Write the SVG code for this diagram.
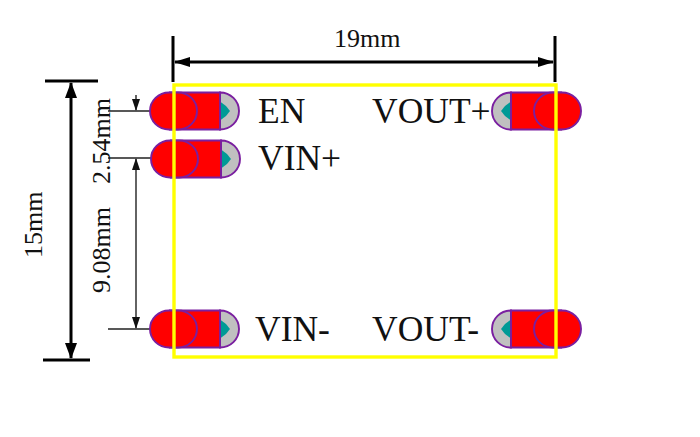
<svg xmlns="http://www.w3.org/2000/svg" width="700" height="437" viewBox="0 0 700 437">
<style>
text{font-family:"Liberation Serif","Times New Roman",serif;fill:#111}
.lbl{font-size:35.500px}
.dim{font-size:26px}
.body{fill:#f00;stroke:#7a1fa0;stroke-width:1.9}
.end{fill:#c0c0c0;stroke:#7a1fa0;stroke-width:1.9}
.core{fill:#009a96}
.thick{stroke:#000;stroke-width:3;fill:none}
.thin{stroke:#222;stroke-width:1.4;fill:none}
.box{fill:none;stroke:#ff0;stroke-width:3.4}
</style>
<defs>
<g id="padL">
<path class="end" d="M70-18.500A19 18.500 0 0 1 70 18.500Z"/>
<path class="core" d="M70-9.500L76-5 80 0 76 5 70 9.500Z"/>
<path class="body" d="M19-18.500H70V18.500H19A19 18.500 0 0 1 19-18.500Z"/>
<path class="body" d="M19-18.500H28A19 18.500 0 0 1 28 18.500H19"/>
</g>
<g id="padR">
<path class="end" d="M-70-18.500A19 18.500 0 0 0-70 18.500Z"/>
<path class="core" d="M-70-9.500L-76-5-80 0-76 5-70 9.500Z"/>
<path class="body" d="M-19-18.500H-70V18.500H-19A19 18.500 0 0 0-19-18.500Z"/>
<path class="body" d="M-19-18.500H-28A19 18.500 0 0 0-28 18.500H-19"/>
</g>
<marker id="a" markerWidth="16" markerHeight="10" refX="15" refY="5" orient="auto-start-reverse" markerUnits="userSpaceOnUse"><path d="M0 0L16 5 0 10Z" fill="#000"/></marker>
<marker id="b" markerWidth="16" markerHeight="12" refX="15" refY="6" orient="auto-start-reverse" markerUnits="userSpaceOnUse"><path d="M0 0L16 6 0 12Z" fill="#000"/></marker>
<marker id="c" markerWidth="12" markerHeight="8" refX="11" refY="4" orient="auto-start-reverse" markerUnits="userSpaceOnUse"><path d="M0 0L12 4 0 8Z" fill="#111"/></marker>
</defs>
<rect width="700" height="437" fill="#fff"/>
<g id="connectors">
<path class="thick" d="M173 36V82M555 36V82M45 81H98M43 360H90"/>
<path class="thick" d="M175 62H553" marker-start="url(#a)" marker-end="url(#a)"/>
<path class="thick" d="M71 83V358" marker-start="url(#b)" marker-end="url(#b)"/>
<path class="thin" d="M108 111H152M108 158H152M108 329H152"/>
<path class="thin" d="M136 95V110" marker-end="url(#c)"/>
<path class="thin" d="M136 159V328" marker-start="url(#c)" marker-end="url(#c)"/>
</g>
<g id="pad-en"><use href="#padL" x="150" y="111"/></g>
<g id="pad-vin-plus"><use href="#padL" x="151" y="159"/></g>
<g id="pad-vin-minus"><use href="#padL" x="150" y="329"/></g>
<g id="pad-vout-plus"><use href="#padR" x="581" y="111"/></g>
<g id="pad-vout-minus"><use href="#padR" x="581" y="329"/></g>
<g id="outline"><rect class="box" x="174" y="85" width="382" height="272"/></g>
<g id="labels">
<text class="lbl" x="258" y="123">EN</text>
<text class="lbl" x="258" y="170">VIN+</text>
<text class="lbl" x="255" y="341">VIN-</text>
<text class="lbl" x="372" y="123">VOUT+</text>
<text class="lbl" x="372" y="341">VOUT-</text>
<text class="dim" x="334" y="47">19mm</text>
<text class="dim" transform="translate(42 258) rotate(-90)">15mm</text>
<text class="dim" transform="translate(110 184) rotate(-90)">2.54mm</text>
<text class="dim" transform="translate(110 293) rotate(-90)">9.08mm</text>
</g>
</svg>
